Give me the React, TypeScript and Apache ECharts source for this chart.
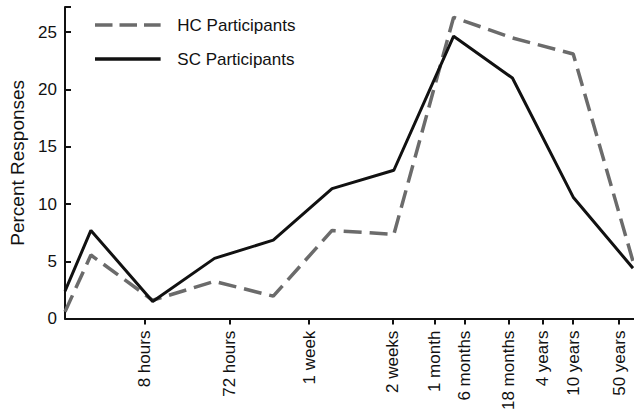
import React, { useEffect, useRef } from "react";
import * as echarts from "echarts";

// Position of each observation along the (non-linear) time axis
const pointPositions = [0, 26, 88, 150, 209, 268, 330, 390, 449, 510, 570];
const hcValues = [0.6, 5.55, 1.6, 3.25, 1.96, 7.7, 7.35, 26.3, 24.5, 23.1, 5.0];
const scValues = [2.4, 7.7, 1.5, 5.26, 6.85, 11.35, 12.95, 24.65, 21.0, 10.6, 4.4];

// Tick marks along the time axis
const tickPositions = [80, 165, 245, 329, 371, 401, 445, 479, 510, 556];
const tickLabels = [
  "8 hours",
  "72 hours",
  "1 week",
  "2 weeks",
  "1 month",
  "6 months",
  "18 months",
  "4 years",
  "10 years",
  "50 years",
];

const FONT = '"Liberation Sans", Arial, Helvetica, sans-serif';
const DASH_ICON = "path://M0,0h20v4h-20zM28,0h20v4h-20zM56,0h19v4h-19z";
const SOLID_ICON = "path://M0,0h75v4h-75z";

export default function App() {
  const ref = useRef<HTMLDivElement>(null);
  useEffect(() => {
    if (!ref.current) return;
    const chart = echarts.init(ref.current, null, { renderer: "svg" });
    const labelMap: Record<number, string> = {};
    tickPositions.forEach((p, i) => (labelMap[p] = tickLabels[i]));
    chart.setOption({
      animation: false,
      textStyle: { fontFamily: FONT },
      grid: { left: 63, top: 7, right: 0, bottom: 90 },
      legend: {
        orient: "vertical",
        left: 95,
        top: 16.5,
        padding: 0,
        itemWidth: 75,
        itemHeight: 3.5,
        itemGap: 17,
        textStyle: { fontSize: 17, color: "#111", fontFamily: FONT, padding: [0, 0, 0, 7] },
        data: [
          { name: "HC Participants", icon: DASH_ICON },
          { name: "SC Participants", icon: SOLID_ICON },
        ],
      },
      xAxis: {
        type: "value",
        min: 0,
        max: 571,
        splitLine: { show: false },
        axisLine: { show: true, lineStyle: { color: "#111", width: 2 } },
        axisTick: {
          show: true,
          inside: false,
          length: 6,
          lineStyle: { color: "#111", width: 2 },
          customValues: tickPositions,
        },
        axisLabel: {
          show: true,
          rotate: 90,
          margin: 12,
          fontSize: 17,
          padding: [0, 0, 9, 0],
          color: "#111",
          fontFamily: FONT,
          customValues: tickPositions,
          formatter: (v: number) => labelMap[v] ?? "",
        },
      },
      yAxis: {
        type: "value",
        min: 0,
        max: 27.2,
        interval: 5,
        name: "Percent Responses",
        nameLocation: "middle",
        nameGap: 38,
        nameTextStyle: { fontSize: 19, color: "#111", fontFamily: FONT },
        splitLine: { show: false },
        axisLine: { show: true, lineStyle: { color: "#111", width: 2 } },
        axisTick: {
          show: true,
          inside: true,
          length: 6,
          lineStyle: { color: "#111", width: 2 },
        },
        axisLabel: {
          margin: 8,
          fontSize: 17,
          color: "#111",
          fontFamily: FONT,
          formatter: (v: number) => (v % 5 === 0 ? String(v) : ""),
        },
      },
      series: [
        {
          name: "HC Participants",
          type: "line",
          symbol: "none",
          data: pointPositions.map((x, i) => [x, hcValues[i]]),
          lineStyle: { color: "#6b6b6b", width: 3.5, type: [18, 8] },
          itemStyle: { color: "#6b6b6b" },
        },
        {
          name: "SC Participants",
          type: "line",
          symbol: "none",
          data: pointPositions.map((x, i) => [x, scValues[i]]),
          lineStyle: { color: "#111", width: 3 },
          itemStyle: { color: "#111" },
        },
      ],
    });
    return () => chart.dispose();
  }, []);
  return <div ref={ref} style={{ width: 634, height: 413, position: "absolute", left: 0, top: 0 }} />;
}
